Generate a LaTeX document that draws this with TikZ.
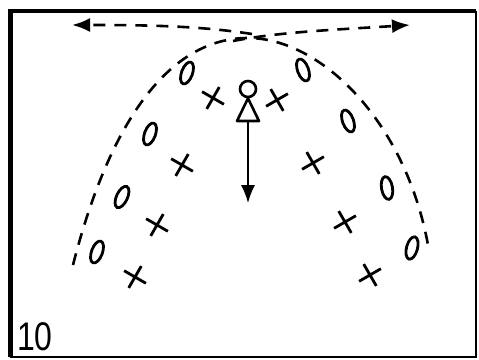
\documentclass[tikz,border=0pt]{standalone}
\usepackage{fontspec}
\setmainfont{Liberation Sans}
\usetikzlibrary{arrows.meta,shapes.geometric,shapes.misc}
\begin{document}
\begin{tikzpicture}[x=1pt,y=-1pt,
  zero/.style={draw,ellipse,line width=2.8pt,minimum width=11pt,minimum height=23pt,inner sep=0pt},
  cross/.style={draw,cross out,line width=2.8pt,minimum size=15pt,inner sep=0pt},
  dsh/.style={line width=2.6pt,dash pattern=on 12pt off 9pt},
  tip/.style={-{Latex[length=18pt,width=14pt]}}]
\useasboundingbox (0,0) rectangle (479,359);
% frame
\draw[line width=1.6pt] (10,357) -- (476,357) -- (476,11);
\draw[line width=5pt] (10,357) -- (10,11);
\draw[line width=3.5pt] (8,11) -- (476,11);
% parabola
\draw[dsh] (73,265) .. controls (110,120) and (170,38) .. (248,38)
  .. controls (320,38) and (405,120) .. (428,245);
% crossing arrows
\coordinate (la) at (252,34);
\coordinate (lb) at (72,25);
\coordinate (ra) at (233,41);
\coordinate (rb) at (410,25);
\draw[dsh,tip] (la) .. controls (200,26) and (150,25) .. (lb);
\draw[dsh,tip] (ra) .. controls (280,32) and (330,30) .. (rb);
% zeros
\node[zero,rotate=-20] (o1) at (187,73) {};
\node[zero,rotate=-20] (o2) at (150,134) {};
\node[zero,rotate=-25] (o3) at (122,197) {};
\node[zero,rotate=-20] (o4) at (97,252) {};
\node[zero,rotate=20] (o5) at (303,70) {};
\node[zero,rotate=20] (o6) at (348,121) {};
\node[zero,rotate=10] (o7) at (387,188) {};
\node[zero,rotate=-15] (o8) at (412,248) {};
% crosses
\node[cross,rotate=15] (x1) at (213,98) {};
\node[cross,rotate=-15] (x2) at (277,100) {};
\node[cross,rotate=15] (x3) at (182,165) {};
\node[cross,rotate=-15] (x4) at (313,163) {};
\node[cross,rotate=15] (x5) at (157,225) {};
\node[cross,rotate=-15] (x6) at (345,222) {};
\node[cross,rotate=15] (x7) at (135,277) {};
\node[cross,rotate=-15] (x8) at (370,275) {};
% player
\node[draw,circle,line width=2.6pt,minimum size=16pt,inner sep=0pt] (head) at (248,89) {};
\coordinate (base) at (248,121);
\draw[line width=2.6pt,line join=round] (head.south) -- (237,121) -- (259,121) -- cycle;
\coordinate (foot) at (248,203);
\draw[line width=1.4pt,tip] (base) -- (foot);
% label
\node[anchor=south west,inner sep=0pt] (lbl) at (17,351) {\fontsize{40}{40}\selectfont\scalebox{0.8}[1]{10}};
\end{tikzpicture}
\end{document}
